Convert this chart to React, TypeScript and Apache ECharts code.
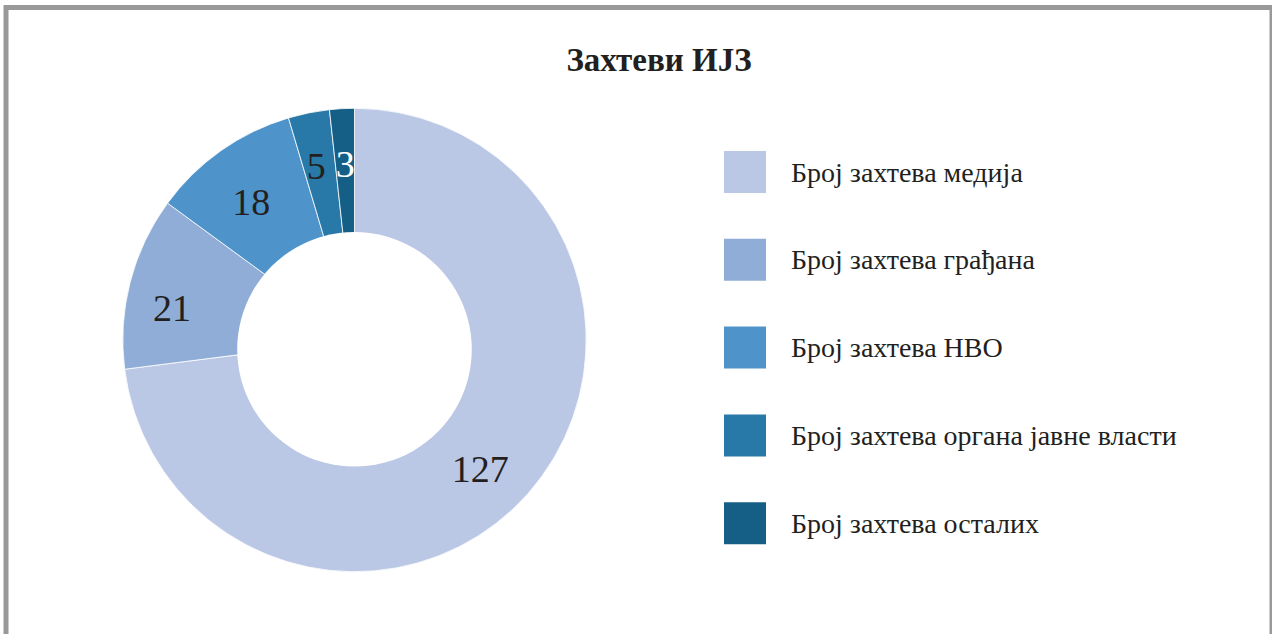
import React, { useEffect, useRef } from "react";
import * as echarts from "echarts";

const title = "Захтеви ИЈЗ";
const categories = [
  "Број захтева медија",
  "Број захтева грађана",
  "Број захтева НВО",
  "Број захтева органа јавне власти",
  "Број захтева осталих",
];
const values = [127, 21, 18, 5, 3];
const colors = ["#BAC7E5", "#8FADD6", "#4F93CB", "#2879A8", "#155F86"];
const labelColors = ["#231F20", "#231F20", "#231F20", "#231F20", "#FFFFFF"];
const labelOffsets = [[-1, 17], [-19, 10], [-6, 0], [-5, -8], [0, -7]];

const FONT = "'Liberation Serif', 'Times New Roman', serif";

export default function App() {
  const ref = useRef<HTMLDivElement>(null);
  useEffect(() => {
    if (!ref.current) return;
    const chart = echarts.init(ref.current, undefined, { renderer: "svg" });
    chart.setOption({
      animation: false,
      backgroundColor: "#FFFFFF",
      title: {
        text: title,
        left: 654,
        top: 38,
        textAlign: "center",
        textStyle: { fontFamily: FONT, fontSize: 33, fontWeight: "bold", color: "#231F20" },
      },
      graphic: [
        {
          type: "rect",
          shape: { x: 6, y: 7.5, width: 1266, height: 700 },
          style: { fill: "none", stroke: "#999999", lineWidth: 5 },
          silent: true,
        },
        {
          type: "circle",
          shape: { cx: 354.5, cy: 349.3, r: 117.3 },
          style: { fill: "#FFFFFF" },
          silent: true,
          z: 1,
        },
      ],
      legend: {
        orient: "vertical",
        left: 719,
        top: 146,
        itemWidth: 42,
        itemHeight: 42,
        itemGap: 45.8,
        icon: "rect",
        data: categories,
        itemStyle: { borderWidth: 0 },
        textStyle: {
          fontFamily: FONT,
          fontSize: 28,
          color: "#231F20",
          padding: [0, 0, 0, 20],
        },
      },
      series: [
        {
          type: "pie",
          z: 0,
          center: [354.5, 340],
          radius: [100, 231.7],
          startAngle: 90,
          clockwise: true,
          avoidLabelOverlap: false,
          itemStyle: { borderColor: "#FFFFFF", borderWidth: 0.8 },
          label: {
            show: true,
            position: "inside",
            formatter: "{c}",
            fontFamily: FONT,
            fontSize: 38,
          },
          labelLine: { show: false },
          emphasis: { disabled: true },
          data: categories.map((name, i) => ({
            name,
            value: values[i],
            itemStyle: { color: colors[i] },
            label: { color: labelColors[i], offset: labelOffsets[i] },
          })),
        },
      ],
    });
    return () => chart.dispose();
  }, []);
  return (
    <div
      ref={ref}
      style={{ position: "fixed", left: 0, top: 0, width: 1272, height: 634 }}
    />
  );
}
